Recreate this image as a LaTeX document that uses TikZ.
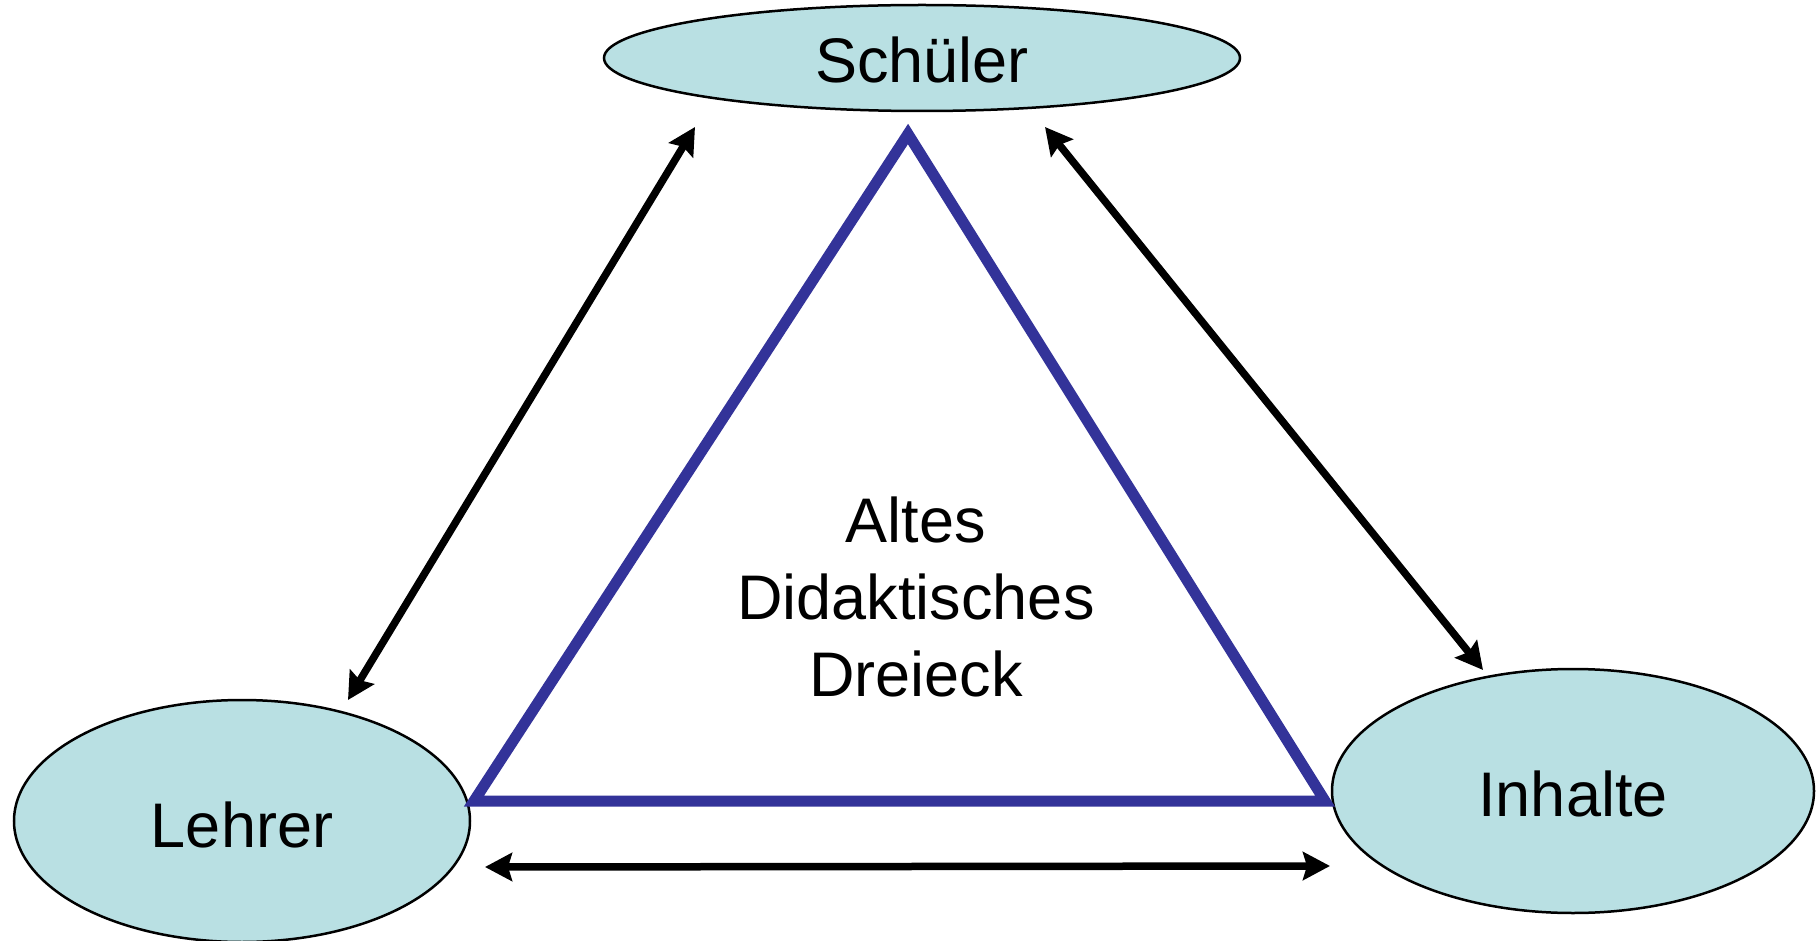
\documentclass[tikz,border=0pt]{standalone}
\usepackage{fontspec}
\setmainfont{Liberation Sans}
\usetikzlibrary{shapes.geometric,arrows.meta}
\definecolor{ellfill}{RGB}{185,224,227}
\definecolor{triblue}{RGB}{51,51,153}
\tikzset{
  ell/.style={ellipse,draw=black,line width=2.5pt,fill=ellfill,inner sep=0pt,
    font=\fontsize{63}{76}\selectfont},
  rel/.style={line width=7.5pt,{Stealth[length=27pt,width=28pt,inset=4pt]}-{Stealth[length=27pt,width=28pt,inset=4pt]}},
  tri/.style={draw=triblue,line width=11pt,line join=miter},
  lbl/.style={align=center,font=\fontsize{63}{77}\selectfont,inner sep=0pt}
}
\begin{document}
\begin{tikzpicture}[x=1pt,y=-1pt]
\useasboundingbox[fill=white] (0,0) rectangle (1816,941);
% ellipses
\node[ell,minimum width=636pt,minimum height=106pt] (schueler) at (922,58) {};
\node[ell,minimum width=456pt,minimum height=242pt] (lehrer) at (242,821) {};
\node[ell,minimum width=482pt,minimum height=244pt] (inhalte) at (1573,791) {};
\node[lbl] (tschueler) at (922,60) {Schüler};
\node[lbl] (tlehrer) at (242,825) {Lehrer};
\node[lbl] (tinhalte) at (1573,794) {Inhalte};
% triangle
\coordinate (ta) at (908,134);
\coordinate (tl) at (474,801);
\coordinate (tr) at (1325,801);
\draw[tri] (ta) -- (tr) -- (tl) -- cycle;
\node[lbl] (center) at (916,597) {Altes\\Didaktisches\\Dreieck};
% arrows
\coordinate (a1) at (695,127);
\coordinate (a2) at (348,700);
\coordinate (b1) at (1045,127);
\coordinate (b2) at (1483,670);
\coordinate (c1) at (485,867);
\coordinate (c2) at (1330,866);
\draw[rel] (a1) -- (a2);
\draw[rel] (b1) -- (b2);
\draw[rel] (c1) -- (c2);
\end{tikzpicture}
\end{document}
